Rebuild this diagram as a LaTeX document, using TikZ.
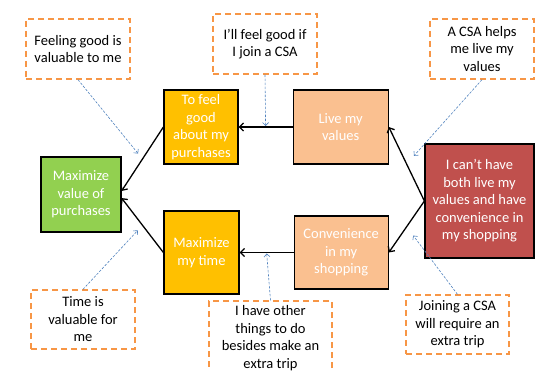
\documentclass[tikz,border=0pt]{standalone}
\usepackage{fontspec}
\setmainfont{Carlito}
\usepackage{tikz}
\usetikzlibrary{arrows.meta, positioning}
\definecolor{goalgreen}{HTML}{92D050}
\definecolor{midyellow}{HTML}{FFC000}
\definecolor{peach}{HTML}{FAC090}
\definecolor{conflictred}{HTML}{C0504D}
\definecolor{noteorange}{HTML}{F79646}
\definecolor{hintblue}{HTML}{4F81BD}
\tikzstyle{block}=[draw=black,rectangle,line width=1.2pt,text=white,align=center,inner sep=0pt]
\tikzstyle{note}=[draw=noteorange,rectangle,line width=1.3pt,dash pattern=on 6pt off 4pt,align=center,inner sep=0pt,minimum width=104pt,minimum height=60pt]
\tikzstyle{link}=[-{Straight Barb[length=4pt,width=8pt]},line width=1.3pt]
\tikzstyle{hint}=[-{Straight Barb[length=3pt,width=6pt]},hintblue,line width=0.6pt,dash pattern=on 2.5pt off 1.5pt,shorten >=1pt]
\tikzstyle{every node}=[font=\fontsize{14.5}{17.5}\selectfont]

\begin{document}
\begin{tikzpicture}[x=1pt,y=-1pt,node distance=54pt]
    \useasboundingbox (0,0) rectangle (540,371);
    % boxes
    \node[block,fill=goalgreen,minimum width=80pt,minimum height=75pt] (goal) at (81,194.5) {Maximize\\value of\\purchases};
    \node[block,fill=midyellow,minimum width=74pt,minimum height=74pt] (feel) at (201,127) {To feel\\good\\about my\\purchases};
    \node[block,fill=midyellow,minimum width=75pt,minimum height=83pt] (time) at (201.5,252.5) {Maximize\\my time};
    \node[block,fill=peach,minimum width=95pt,minimum height=74pt,right=54pt of feel] (live) {Live my\\values};
    \node[block,fill=peach,minimum width=94pt,minimum height=73pt,right=54pt of time] (conv) {Convenience\\in my\\shopping};
    \node[block,fill=conflictred,minimum width=109pt,minimum height=114pt] (conflict) at (479.5,201) {I can’t have\\both live my\\values and have\\convenience in\\my shopping};
    % notes
    \node[note] (n1) at (78,49) {Feeling good is\\valuable to me};
    \node[note] (n2) at (265,44) {I’ll feel good if\\I join a CSA};
    \node[note] (n3) at (482,49) {A CSA helps\\me live my\\values};
    \node[note,minimum height=59pt] (n4) at (83,319.5) {Time is\\valuable for\\me};
    \node[note,minimum width=123pt,minimum height=74pt] (n5) at (270.5,338) {I have other\\things to do\\besides make an\\extra trip};
    \node[note,minimum width=103pt,minimum height=59pt] (n6) at (457.5,324.5) {Joining a CSA\\will require an\\extra trip};
    % connectors
    \draw[link] (feel.west) -- coordinate[pos=.5] (m1) (goal.5);
    \draw[link] (time.west) -- coordinate[pos=.5] (m2) (goal.-5);
    \draw[link] (live) -- coordinate[pos=.5] (m3) (feel);
    \draw[link] (conv) -- coordinate[pos=.5] (m4) (time);
    \draw[link] (conflict.west) -- coordinate[pos=.5] (m5) (live.east);
    \draw[link] (conflict.west) -- coordinate[pos=.5] (m6) (conv.east);
    % hints
    \draw[hint,shorten >=7pt] (n1.south) -- (m1);
    \draw[hint] (n2.south) -- (m3);
    \draw[hint,shorten >=11pt] (n3.south) -- (m5);
    \draw[hint,shorten >=7pt] (n4.north) -- (m2);
    \draw[hint] (n5.north) -- (m4);
    \draw[hint,shorten >=11pt] (n6.north) -- (m6);
\end{tikzpicture}
\end{document}
